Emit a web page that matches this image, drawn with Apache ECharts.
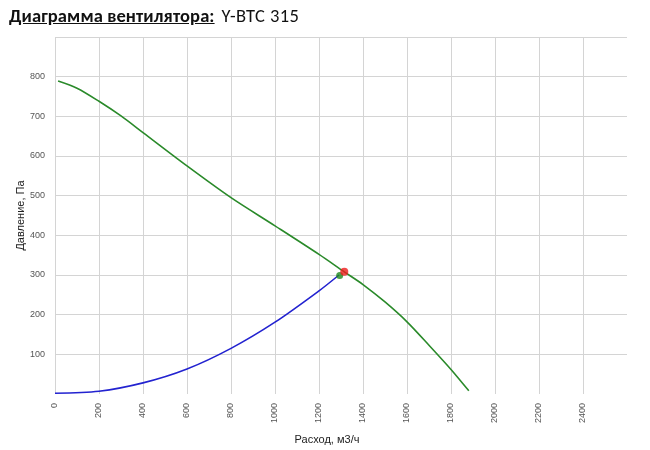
<!DOCTYPE html>
<html>
<head>
<meta charset="utf-8">
<script src="https://cdn.jsdelivr.net/npm/echarts@6/dist/echarts.min.js"></script>
<style>
  html, body { margin: 0; padding: 0; background: #fff; }
  #title { position: absolute; left: 9px; top: 4px; font-family: Carlito, Lato, "Open Sans", sans-serif; font-size: 18.5px; color: #111; white-space: nowrap; z-index: 2; }
  #title b { letter-spacing: 0.1px; }
  #title span { margin-left: 7px; letter-spacing: 0.4px; }
  #chart { width: 650px; height: 450px; }
</style>
</head>
<body>
<div id="title"><b><u>Диаграмма вентилятора:</u></b><span>Y-BTC 315</span></div>
<div id="chart"></div>
<script>
const titleBold = 'Диаграмма вентилятора:';
const titleModel = 'Y-BTC 315';
const xAxisName = 'Расход, м3/ч';
const yAxisName = 'Давление, Па';

// fan curve (flow m3/h, pressure Pa)
const fanCurve = [
  [14, 789], [100, 771], [200, 738], [300, 701], [400, 659], [600, 575],
  [800, 495], [1000, 424], [1200, 352], [1315, 308], [1400, 276],
  [1500, 232], [1600, 182], [1700, 123], [1800, 62], [1881, 8]
];
// system (network) curve
const systemCurve = [
  [0, 2], [200, 7], [400, 28], [600, 63], [800, 115], [1000, 181],
  [1200, 260], [1291, 300]
];
const requiredPoint = [[1294, 299]];
const operatingPoint = [[1315, 308]];

const xMax = 2600, xStep = 200;
const yMax = 900, yStep = 100;

const font = 'Arial, "Liberation Sans", sans-serif';
const chart = echarts.init(document.getElementById('chart'), null, { renderer: 'canvas' });
chart.setOption({
  animation: false,
  backgroundColor: '#fff',
  grid: { left: 55, right: 23, top: 37, bottom: 55, containLabel: false },
  xAxis: {
    type: 'value', min: 0, max: xMax, interval: xStep,
    name: xAxisName, nameLocation: 'middle', nameGap: 40, nameMoveOverlap: false,
    nameTextStyle: { fontFamily: font, fontSize: 11, color: '#222', padding: [0, 28, 0, 0] },
    axisLine: { show: false }, axisTick: { show: false },
    axisLabel: { rotate: 90, fontSize: 9, color: '#555', margin: 9, showMaxLabel: false,
      fontFamily: font, formatter: v => String(v) },
    splitLine: { show: true, showMaxLine: false, lineStyle: { color: '#d4d4d4', width: 1 } }
  },
  yAxis: {
    type: 'value', min: 0, max: yMax, interval: yStep,
    name: yAxisName, nameLocation: 'middle', nameGap: 29, nameMoveOverlap: false,
    nameTextStyle: { fontFamily: font, fontSize: 11, color: '#222' },
    axisLine: { show: false }, axisTick: { show: false },
    axisLabel: { fontSize: 9, color: '#555', margin: 10, showMinLabel: false, showMaxLabel: false,
      fontFamily: font, formatter: v => String(v) },
    splitLine: { show: true, showMinLine: false, lineStyle: { color: '#d4d4d4', width: 1 } }
  },
  series: [
    { type: 'line', data: fanCurve, smooth: 0.3, showSymbol: false,
      lineStyle: { color: '#2a8a2a', width: 1.6 }, z: 2 },
    { type: 'line', data: systemCurve, smooth: 0.3, showSymbol: false,
      lineStyle: { color: '#2323d0', width: 1.6 }, z: 2 },
    { type: 'scatter', data: requiredPoint, symbolSize: 7,
      itemStyle: { color: '#1e8a1e' }, z: 3 },
    { type: 'scatter', data: operatingPoint, symbolSize: 8,
      itemStyle: { color: '#ee1b1b' }, z: 4 }
  ]
});
</script>
</body>
</html>
